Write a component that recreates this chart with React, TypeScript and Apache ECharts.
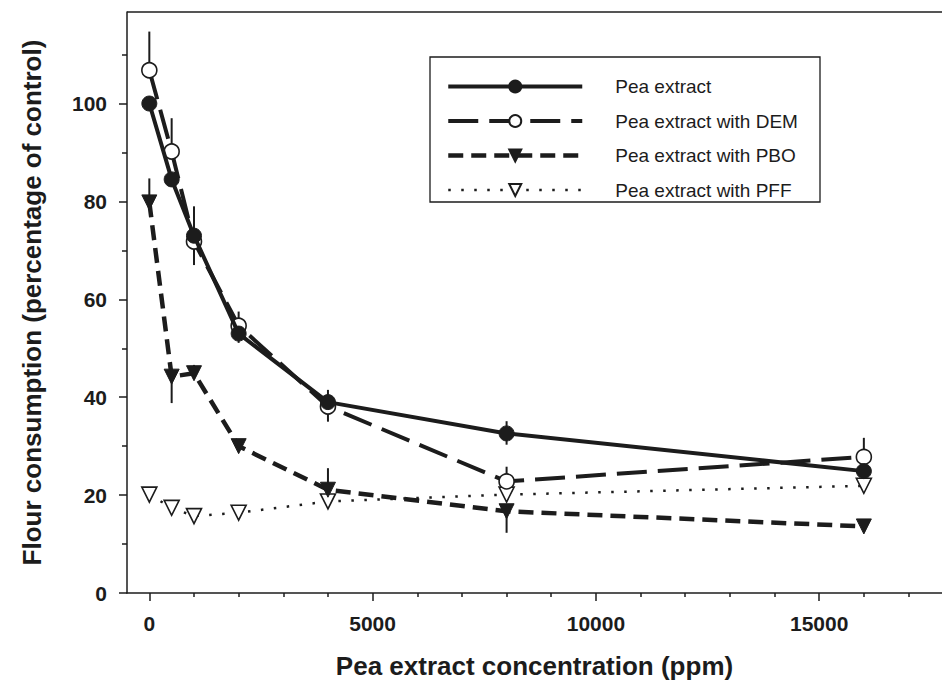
import React, { useEffect, useRef } from "react";
import * as echarts from "echarts";

// ---- data ----
const concentrations = [0, 500, 1000, 2000, 4000, 8000, 16000];
const peaExtract = [100, 84.5, 73, 53, 39, 32.6, 24.9];
const peaDEM = [106.8, 90.2, 71.8, 54.6, 38.1, 22.8, 27.8];
const peaPBO = [79.8, 44.2, 44.9, 30.0, 21.1, 16.7, 13.6];
const peaPFF = [20.1, 17.4, 15.7, 16.4, 18.7, 20.1, 21.9];

// error bars: [concentration, from, to]
const errPea = [
  [1000, 73, 79],
  [2000, 53, 57.5],
  [4000, 39, 41.5],
  [8000, 30.3, 35.1],
];
const errDEM = [
  [0, 106.8, 114.7],
  [500, 90.2, 97],
  [1000, 67, 71.8],
  [2000, 51.1, 54.6],
  [4000, 35, 38.1],
  [8000, 22.8, 25.8],
  [16000, 27.8, 31.7],
];
const errPBO = [
  [0, 79.8, 84.7],
  [500, 38.8, 44.2],
  [1000, 44.9, 46.6],
  [4000, 21.1, 25.5],
  [8000, 12.3, 16.7],
];

const xMajorTicks = [0, 5000, 10000, 15000];
const xMinorTicks = [1000, 2000, 3000, 4000, 6000, 7000, 8000, 9000, 11000, 12000, 13000, 14000, 16000, 17000];
const yMajorTicks = [0, 20, 40, 60, 80, 100];
const yMinorTicks = [10, 30, 50, 70, 90, 110];

const seriesNames = [
  "Pea extract",
  "Pea extract with DEM",
  "Pea extract with PBO",
  "Pea extract with PFF",
];

const INK = "#1c1c1c";
const FONT = "Liberation Sans, Arial, sans-serif";

function pairs(ys: number[]) {
  return concentrations.map((x, i) => [x, ys[i]]);
}

function errSeries(data: number[][]) {
  return {
    type: "custom",
    xAxisIndex: 0,
    yAxisIndex: 0,
    z: 1,
    silent: true,
    data,
    renderItem: (_p: any, api: any) => {
      const a = api.coord([api.value(0), api.value(1)]);
      const b = api.coord([api.value(0), api.value(2)]);
      return {
        type: "line",
        shape: { x1: a[0], y1: a[1], x2: b[0], y2: b[1] },
        style: { stroke: INK, lineWidth: 2 },
      };
    },
  };
}

export default function App() {
  const ref = useRef<HTMLDivElement>(null);
  useEffect(() => {
    if (!ref.current) return;
    const chart = echarts.init(ref.current, null, { renderer: "svg" });
    const gridPos = { left: 127, top: 12, right: 0, bottom: 104 };
    const xMin = -500;
    const xMax = 17750;
    const yMin = 0;
    const yMax = 118.7;
    const tickLabel = {
      fontSize: 21,
      fontWeight: "bold" as const,
      color: INK,
      fontFamily: FONT,
      formatter: (v: number) => String(v),
    };
    chart.setOption({
      animation: false,
      backgroundColor: "#ffffff",
      grid: [
        { ...gridPos, containLabel: false },
        { ...gridPos, containLabel: false },
      ],
      xAxis: [
        {
          type: "value",
          gridIndex: 0,
          min: xMin,
          max: xMax,
          axisLine: { show: true, onZero: false, lineStyle: { color: INK, width: 1.5 } },
          axisTick: { show: true, customValues: xMajorTicks, length: 8, lineStyle: { color: INK, width: 1.5 } },
          axisLabel: { customValues: xMajorTicks, margin: 20, ...tickLabel },
          splitLine: { show: false },
          name: "Pea extract concentration (ppm)",
          nameLocation: "middle",
          nameGap: 60,
          nameTextStyle: { fontSize: 26, fontWeight: "bold", color: INK, fontFamily: FONT },
        },
        {
          type: "value",
          gridIndex: 1,
          min: xMin,
          max: xMax,
          axisLine: { show: false, onZero: false },
          axisTick: { show: true, customValues: xMinorTicks, length: 4, lineStyle: { color: INK, width: 1.5 } },
          axisLabel: { show: false },
          splitLine: { show: false },
        },
      ],
      yAxis: [
        {
          type: "value",
          gridIndex: 0,
          min: yMin,
          max: yMax,
          axisLine: { show: true, onZero: false, lineStyle: { color: INK, width: 1.5 } },
          axisTick: { show: true, customValues: yMajorTicks, length: 8, lineStyle: { color: INK, width: 1.5 } },
          axisLabel: { customValues: yMajorTicks, margin: 20, ...tickLabel },
          splitLine: { show: false },
          name: "Flour consumption (percentage of control)",
          nameLocation: "middle",
          nameGap: 82,
          nameTextStyle: { fontSize: 26, fontWeight: "bold", color: INK, fontFamily: FONT },
        },
        {
          type: "value",
          gridIndex: 1,
          min: yMin,
          max: yMax,
          axisLine: { show: false, onZero: false },
          axisTick: { show: true, customValues: yMinorTicks, length: 5, lineStyle: { color: INK, width: 1.5 } },
          axisLabel: { show: false },
          splitLine: { show: false },
        },
      ],
      legend: {
        orient: "vertical",
        left: 446,
        top: 77,
        data: seriesNames,
        itemWidth: 134,
        itemHeight: 15,
        itemGap: 15.5,
        padding: 0,
        lineStyle: { width: "inherit" },
        textStyle: { fontSize: 19, color: INK, fontFamily: FONT, padding: [0, 0, 0, 28] },
      },
      graphic: [
        {
          type: "line",
          shape: { x1: 127, y1: 12, x2: 942, y2: 12 },
          style: { stroke: INK, lineWidth: 1.5 },
        },
        {
          type: "rect",
          shape: { x: 430, y: 57, width: 390, height: 145 },
          style: { fill: "none", stroke: INK, lineWidth: 1.3 },
        },
      ],
      series: [
        errSeries(errPea),
        errSeries(errDEM),
        errSeries(errPBO),
        {
          name: seriesNames[0],
          type: "line",
          data: pairs(peaExtract),
          symbol: "circle",
          symbolSize: 15,
          z: 5,
          lineStyle: { color: INK, width: 4, type: "solid" },
          itemStyle: { color: INK, borderColor: INK, borderWidth: 1 },
        },
        {
          name: seriesNames[1],
          type: "line",
          data: pairs(peaDEM),
          symbol: "circle",
          symbolSize: 15,
          z: 4,
          lineStyle: { color: INK, width: 4, type: [30, 11] },
          itemStyle: { color: "#ffffff", borderColor: INK, borderWidth: 1.6 },
        },
        {
          name: seriesNames[2],
          type: "line",
          data: pairs(peaPBO),
          symbol: "triangle",
          symbolRotate: 180,
          symbolSize: 15,
          z: 3,
          lineStyle: { color: INK, width: 4.5, type: [15, 8] },
          itemStyle: { color: INK, borderColor: INK, borderWidth: 1 },
        },
        {
          name: seriesNames[3],
          type: "line",
          data: pairs(peaPFF),
          symbol: "triangle",
          symbolRotate: 180,
          symbolSize: 15,
          z: 2,
          lineStyle: { color: INK, width: 2.5, type: [2.5, 10.5] },
          itemStyle: { color: "#ffffff", borderColor: INK, borderWidth: 1.6 },
        },
      ],
    });
    return () => chart.dispose();
  }, []);
  return (
    <div
      ref={ref}
      style={{ position: "fixed", left: 0, top: 0, width: 942, height: 697, background: "#fff" }}
    />
  );
}
